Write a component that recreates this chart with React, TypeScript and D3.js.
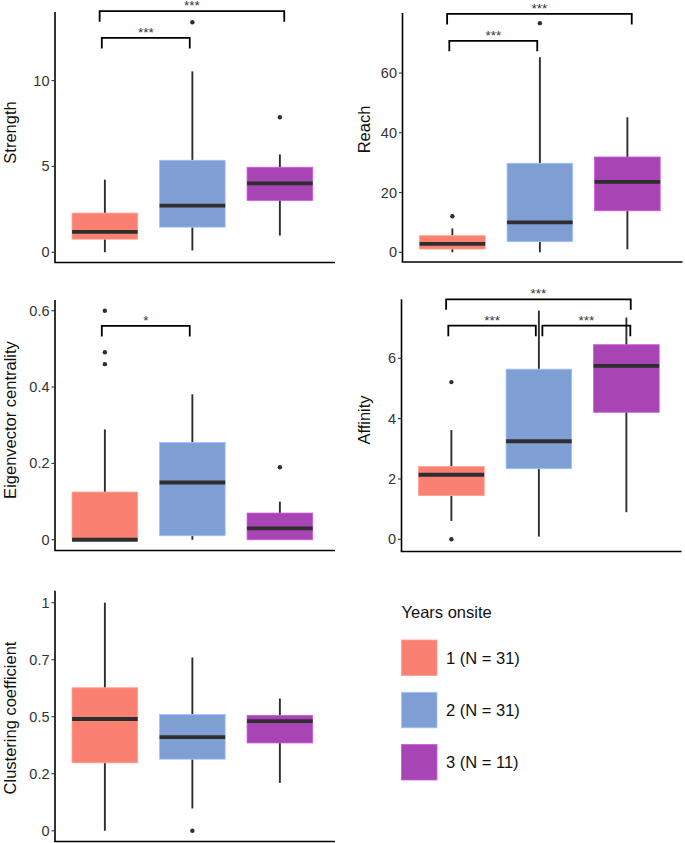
import React from "react";
import * as d3 from "d3";

type Box = { lo: number; q1: number; med: number; q3: number; hi: number; out: number[] };
type Sig = { x1: number; x2: number; y: number; label: string };

const groups = [1, 2, 3];
const legendTitle = "Years onsite";
const legendLabels = ["1 (N = 31)", "2 (N = 31)", "3 (N = 11)"];
const groupColors = ["#FA8072", "#7F9FD4", "#A845B5"];

const strengthBoxes: Box[] = [
  { lo: 0, q1: 0.76, med: 1.19, q3: 2.28, hi: 4.23, out: [] },
  { lo: 0.1, q1: 1.46, med: 2.71, q3: 5.36, hi: 10.54, out: [13.4] },
  { lo: 0.97, q1: 3.02, med: 4.01, q3: 4.95, hi: 5.7, out: [7.87] },
];
const reachBoxes: Box[] = [
  { lo: 0, q1: 1.1, med: 2.8, q3: 5.56, hi: 8.0, out: [12.06] },
  { lo: 0, q1: 3.55, med: 10.0, q3: 29.8, hi: 65.3, out: [76.7] },
  { lo: 1.0, q1: 13.9, med: 23.6, q3: 31.9, hi: 45.2, out: [] },
];
const eigenBoxes: Box[] = [
  { lo: 0, q1: 0, med: 0, q3: 0.125, hi: 0.289, out: [0.6, 0.491, 0.46] },
  { lo: 0, q1: 0.0105, med: 0.15, q3: 0.255, hi: 0.381, out: [] },
  { lo: 0, q1: 0, med: 0.03, q3: 0.07, hi: 0.1, out: [0.19] },
];
const affinityBoxes: Box[] = [
  { lo: 0.61, q1: 1.45, med: 2.14, q3: 2.41, hi: 3.62, out: [5.21, 0] },
  { lo: 0.09, q1: 2.34, med: 3.25, q3: 5.64, hi: 7.58, out: [] },
  { lo: 0.9, q1: 4.21, med: 5.75, q3: 6.45, hi: 7.35, out: [] },
];
const clusterBoxes: Box[] = [
  { lo: 0, q1: 0.298, med: 0.49, q3: 0.627, hi: 1.0, out: [] },
  { lo: 0.098, q1: 0.314, med: 0.411, q3: 0.51, hi: 0.76, out: [0] },
  { lo: 0.21, q1: 0.385, med: 0.481, q3: 0.506, hi: 0.58, out: [] },
];

const strengthTicks = [0, 5, 10];
const strengthTickLabels = ["0", "5", "10"];
const reachTicks = [0, 20, 40, 60];
const reachTickLabels = ["0", "20", "40", "60"];
const eigenTicks = [0, 0.2, 0.4, 0.6];
const eigenTickLabels = ["0", "0.2", "0.4", "0.6"];
const affinityTicks = [0, 2, 4, 6];
const affinityTickLabels = ["0", "2", "4", "6"];
const clusterTicks = [0, 0.25, 0.5, 0.75, 1];
const clusterTickLabels = ["0", "0.2", "0.5", "0.7", "1"];

const strengthSig: Sig[] = [
  { x1: 0.965, x2: 1.97, y: 12.49, label: "***" },
  { x1: 0.94, x2: 3.05, y: 14.05, label: "***" },
];
const reachSig: Sig[] = [
  { x1: 0.965, x2: 1.97, y: 70.8, label: "***" },
  { x1: 0.94, x2: 3.05, y: 79.8, label: "***" },
];
const eigenSig: Sig[] = [{ x1: 0.965, x2: 1.97, y: 0.56, label: "*" }];
const affinitySig: Sig[] = [
  { x1: 0.94, x2: 3.05, y: 7.955, label: "***" },
  { x1: 0.965, x2: 1.965, y: 7.08, label: "***" },
  { x1: 2.04, x2: 3.045, y: 7.08, label: "***" },
];
const clusterSig: Sig[] = [];

type Panel = {
  title: string;
  axisX: number;
  top: number;
  bottom: number;
  domain: [number, number];
  boxes: Box[];
  ticks: number[];
  tickLabels: string[];
  sig: Sig[];
  titleX: number;
  titleY: number;
};

const panels: Panel[] = [
  { title: "Strength", axisX: 55, top: 12, bottom: 262.5, domain: [-0.6, 14.0], boxes: strengthBoxes, ticks: strengthTicks, tickLabels: strengthTickLabels, sig: strengthSig, titleX: 15.5, titleY: 132.5 },
  { title: "Reach", axisX: 402.5, top: 13, bottom: 262, domain: [-3.25, 80.1], boxes: reachBoxes, ticks: reachTicks, tickLabels: reachTickLabels, sig: reachSig, titleX: 370, titleY: 129.5 },
  { title: "Eigenvector centrality", axisX: 55, top: 300, bottom: 550.5, domain: [-0.0281, 0.628], boxes: eigenBoxes, ticks: eigenTicks, tickLabels: eigenTickLabels, sig: eigenSig, titleX: 15.5, titleY: 420 },
  { title: "Affinity", axisX: 401.5, top: 299.3, bottom: 551.5, domain: [-0.404, 7.955], boxes: affinityBoxes, ticks: affinityTicks, tickLabels: affinityTickLabels, sig: affinitySig, titleX: 370, titleY: 420 },
  { title: "Clustering coefficient", axisX: 55, top: 590.7, bottom: 841.5, domain: [-0.047, 1.0526], boxes: clusterBoxes, ticks: clusterTicks, tickLabels: clusterTickLabels, sig: clusterSig, titleX: 15.5, titleY: 718 },
];

const FONT = "'Liberation Sans', Arial, Helvetica, sans-serif";

function PanelView({ p }: { p: Panel }) {
  const width = 280;
  const x = d3.scaleLinear().domain([0.43, 3.63]).range([p.axisX, p.axisX + width]);
  const y = d3.scaleLinear().domain(p.domain).range([p.bottom, p.top]);
  const bw = 0.75 * (x(2) - x(1));
  const tip = 10.5;
  return (
    <g>
      {p.boxes.map((b, i) => {
        const cx = x(groups[i]);
        return (
          <g key={i}>
            <line x1={cx} x2={cx} y1={y(b.q3)} y2={y(b.hi)} stroke="#2e2e2e" strokeWidth={1.9} />
            <line x1={cx} x2={cx} y1={y(b.q1)} y2={y(b.lo)} stroke="#2e2e2e" strokeWidth={1.9} />
            <rect
              x={cx - bw / 2}
              y={y(b.q3)}
              width={bw}
              height={Math.max(0, y(b.q1) - y(b.q3))}
              fill={groupColors[i]}
              stroke={d3.color(groupColors[i])!.brighter(0.6).toString()}
              strokeWidth={0.8}
            />
            <line x1={cx - bw / 2} x2={cx + bw / 2} y1={y(b.med)} y2={y(b.med)} stroke="#2e2e2e" strokeWidth={3.8} />
            {b.out.map((o, k) => (
              <circle key={k} cx={cx} cy={y(o)} r={2.2} fill="#2e2e2e" />
            ))}
          </g>
        );
      })}
      <line x1={p.axisX} x2={p.axisX} y1={p.top} y2={p.bottom} stroke="#000" strokeWidth={1.6} />
      <line x1={p.axisX - 0.8} x2={p.axisX + width} y1={p.bottom} y2={p.bottom} stroke="#000" strokeWidth={1.6} />
      {p.ticks.map((t, i) => (
        <g key={i}>
          <line x1={p.axisX - 3.5} x2={p.axisX} y1={y(t)} y2={y(t)} stroke="#333" strokeWidth={1.1} />
          <text
            x={p.axisX - 5.5}
            y={y(t)}
            dy="0.35em"
            textAnchor="end"
            fontSize={14.5}
            fill="#333"
            fontFamily={FONT}
          >
            {p.tickLabels[i]}
          </text>
        </g>
      ))}
      <text
        transform={`translate(${p.titleX},${p.titleY}) rotate(-90)`}
        textAnchor="middle"
        fontSize={16.5}
        fill="#111"
        fontFamily={FONT}
      >
        {p.title}
      </text>
      {p.sig.map((s, i) => {
        const x1 = x(s.x1);
        const x2 = x(s.x2);
        const yy = y(s.y);
        return (
          <g key={i}>
            <path
              d={`M${x1},${yy + tip}V${yy}H${x2}V${yy + tip}`}
              fill="none"
              stroke="#000"
              strokeWidth={1.8}
            />
            <text
              x={(x1 + x2) / 2}
              y={yy - 1}
              textAnchor="middle"
              fontSize={13.5}
              fill="#333"
              fontFamily={FONT}
            >
              {s.label}
            </text>
          </g>
        );
      })}
    </g>
  );
}

function Legend() {
  const lx = 401.5;
  const keyTop = [640, 692.3, 744.5];
  const key = 35.5;
  return (
    <g fontFamily={FONT}>
      <text x={lx} y={618} fontSize={16.5} fill="#111">
        {legendTitle}
      </text>
      {legendLabels.map((l, i) => (
        <g key={i}>
          <rect x={lx} y={keyTop[i]} width={key} height={key} fill={groupColors[i]} stroke={d3.color(groupColors[i])!.brighter(0.6).toString()} strokeWidth={0.8} />
          <text x={446} y={keyTop[i] + key / 2} dy="0.36em" fontSize={16.5} fill="#111">
            {l}
          </text>
        </g>
      ))}
    </g>
  );
}

export default function App() {
  return (
    <svg
      width={685}
      height={843}
      style={{ position: "absolute", left: 0, top: 0, background: "#fff" }}
    >
      <rect width={685} height={843} fill="#fff" />
      {panels.map((p, i) => (
        <PanelView key={i} p={p} />
      ))}
      <Legend />
    </svg>
  );
}
